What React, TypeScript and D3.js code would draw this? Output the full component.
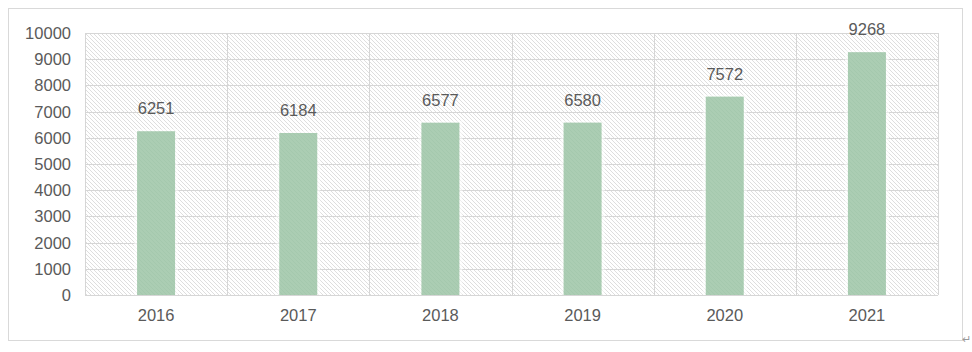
import React from "react";
import * as d3 from "d3";

const years = ["2016", "2017", "2018", "2019", "2020", "2021"];
const values = [6251, 6184, 6577, 6580, 7572, 9268];
const yTicks = [0, 1000, 2000, 3000, 4000, 5000, 6000, 7000, 8000, 9000, 10000];

const W = 972;
const H = 352;
const plot = { left: 85, right: 938, top: 33, bottom: 295 };
const font = "'Liberation Sans', Arial, sans-serif";

export default function App() {
  const x = d3
    .scaleBand<string>()
    .domain(years)
    .range([plot.left, plot.right])
    .paddingInner(0)
    .paddingOuter(0);
  const y = d3.scaleLinear().domain([0, 10000]).range([plot.bottom, plot.top]);
  const barW = 38;
  const boundaries = years.map((yr) => x(yr) as number).concat([plot.right]);

  return (
    <svg
      width={W}
      height={H}
      style={{ position: "absolute", left: 0, top: 0, background: "#fff" }}
    >
      <defs>
        <pattern id="hatch" patternUnits="userSpaceOnUse" width={4} height={4}>
          <path d="M-1,-1 L5,5 M-1,3 L1,5 M3,-1 L5,1" stroke="#dadada" strokeWidth={0.9} />
        </pattern>
        <pattern id="hatchBar" patternUnits="userSpaceOnUse" width={4} height={4}>
          <path d="M-1,-1 L5,5 M-1,3 L1,5 M3,-1 L5,1" stroke="#8fb898" strokeWidth={0.8} />
        </pattern>
      </defs>
      <rect x={8.5} y={8.5} width={954} height={332} fill="#fff" stroke="#d9d9d9" strokeWidth={1} />
      <rect
        x={plot.left}
        y={plot.top}
        width={plot.right - plot.left}
        height={plot.bottom - plot.top}
        fill="url(#hatch)"
      />
      {yTicks.map((t) => (
        <line
          key={"h" + t}
          x1={plot.left}
          x2={plot.right}
          y1={Math.round(y(t)) + 0.5}
          y2={Math.round(y(t)) + 0.5}
          stroke="#d6d6d6"
          strokeWidth={1}
        />
      ))}
      {boundaries.map((b, i) => (
        <line
          key={"v" + i}
          x1={Math.round(b) + 0.5}
          x2={Math.round(b) + 0.5}
          y1={plot.top}
          y2={plot.bottom}
          stroke="#d6d6d6"
          strokeWidth={1}
        />
      ))}
      {years.map((yr, i) => {
        const cx = (x(yr) as number) + x.bandwidth() / 2;
        const top = y(values[i]);
        return (
          <g key={yr}>
            <rect x={cx - barW / 2 - 3} y={top - 2} width={barW + 6} height={plot.bottom - top + 2} fill="#ffffff" opacity={0.5} />
            <rect x={cx - barW / 2} y={top} width={barW} height={plot.bottom - top} fill="#abcdb3" />
            <rect x={cx - barW / 2} y={top} width={barW} height={plot.bottom - top} fill="url(#hatchBar)" opacity={0.3} />
            <text
              x={cx}
              y={top - 17}
              textAnchor="middle"
              fontFamily={font}
              fontSize={16.5}
              fill="#5a5a5a"
            >
              {values[i]}
            </text>
            <text
              x={cx}
              y={321}
              textAnchor="middle"
              fontFamily={font}
              fontSize={16.5}
              fill="#5a5a5a"
            >
              {yr}
            </text>
          </g>
        );
      })}
      {yTicks.map((t) => (
        <text
          key={"yl" + t}
          x={71}
          y={y(t) + 6}
          textAnchor="end"
          fontFamily={font}
          fontSize={16.5}
          fill="#5a5a5a"
        >
          {t}
        </text>
      ))}
      <text x={962} y={343} fontFamily={font} fontSize={11} fill="#999">
        ↵
      </text>
    </svg>
  );
}
